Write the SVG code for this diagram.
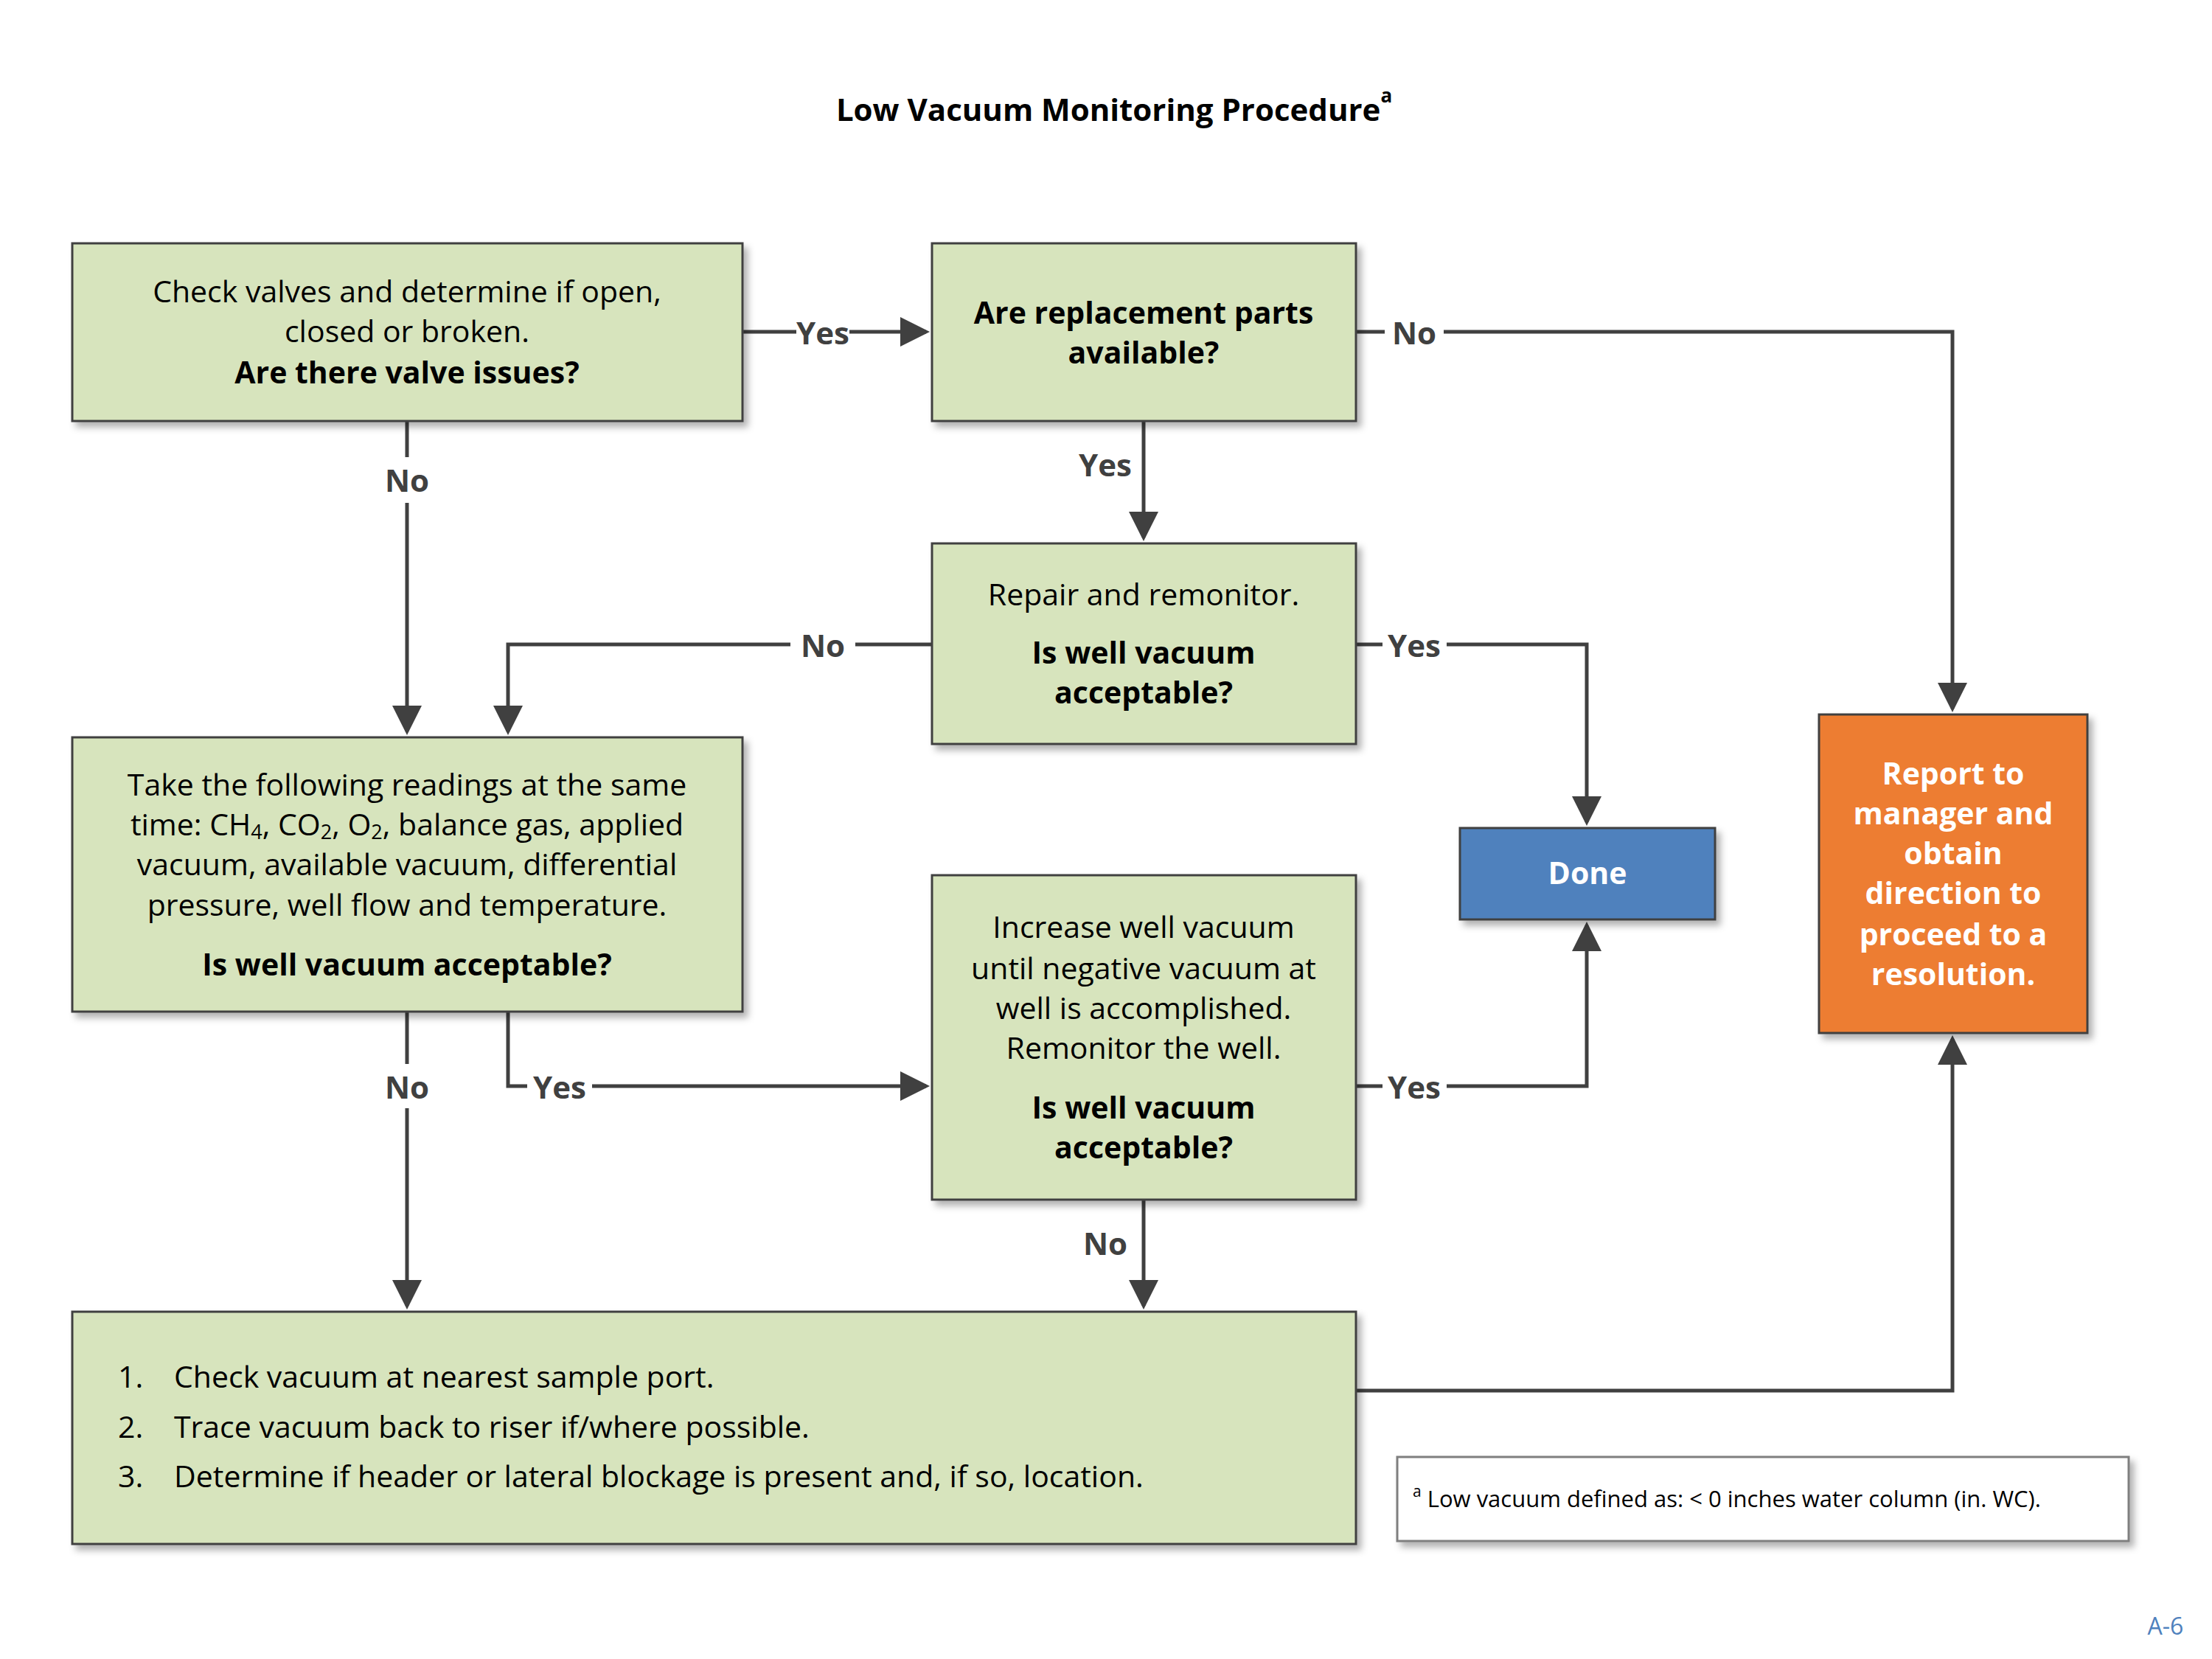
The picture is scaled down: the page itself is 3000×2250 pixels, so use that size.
<svg xmlns="http://www.w3.org/2000/svg" width="3000" height="2250" viewBox="0 0 3000 2250">
<style>
text{font-family:"Open Sans","Noto Sans",sans-serif;fill:#000;font-size:41px;dominant-baseline:central}
.c{text-anchor:middle}
.b{font-weight:bold}
.box{fill:#D7E4BD;stroke:#404040;stroke-width:3;filter:url(#sh)}
.ln{fill:none;stroke:#404040;stroke-width:5}
.lb{font-weight:bold;fill:#404040;font-size:42px;text-anchor:middle}
.w{fill:#fff}
</style>
<defs>
<filter id="sh" x="-5%" y="-5%" width="115%" height="120%"><feDropShadow dx="6" dy="7" stdDeviation="5" flood-color="#000" flood-opacity="0.3"/></filter>
<marker id="a" markerWidth="8" markerHeight="8" refX="7" refY="4" orient="auto" markerUnits="strokeWidth"><path d="M0,0 L8,4 L0,8 Z" fill="#404040"/></marker>
</defs>
<rect width="3000" height="2250" fill="#fff"/>
<text x="1511" y="147" class="c b" style="font-size:42px">Low Vacuum Monitoring Procedure<tspan style="font-size:26px" baseline-shift="super">a</tspan></text>

<g id="connectors">
<path class="ln" d="M1007,450 H1080 M1152,450 H1256" marker-end="url(#a)"/>
<text class="lb" x="1116" y="450">Yes</text>
<path class="ln" d="M1839,450 H1878 M1958,450 H2648 V961" marker-end="url(#a)"/>
<text class="lb" x="1918" y="450">No</text>
<path class="ln" d="M1551,571 V729" marker-end="url(#a)"/>
<text class="lb" x="1499" y="629">Yes</text>
<path class="ln" d="M552,571 V620 M552,682 V992" marker-end="url(#a)"/>
<text class="lb" x="552" y="650">No</text>
<path class="ln" d="M1264,874 H1160 M1072,874 H689 V992" marker-end="url(#a)"/>
<text class="lb" x="1116" y="874">No</text>
<path class="ln" d="M1839,874 H1875 M1962,874 H2152 V1115" marker-end="url(#a)"/>
<text class="lb" x="1918" y="874">Yes</text>
<path class="ln" d="M689,1372 V1473 H715 M803,1473 H1256" marker-end="url(#a)"/>
<text class="lb" x="759" y="1473">Yes</text>
<path class="ln" d="M552,1372 V1443 M552,1503 V1771" marker-end="url(#a)"/>
<text class="lb" x="552" y="1473">No</text>
<path class="ln" d="M1839,1473 H1875 M1962,1473 H2152 V1255" marker-end="url(#a)"/>
<text class="lb" x="1918" y="1473">Yes</text>
<path class="ln" d="M1551,1627 V1771" marker-end="url(#a)"/>
<text class="lb" x="1499" y="1685">No</text>
<path class="ln" d="M1839,1886 H2648 V1409" marker-end="url(#a)"/>
</g>

<g id="n1"><rect class="box" x="98" y="330" width="909" height="241"/>
<text class="c" x="552" y="394">Check valves and determine if open,</text>
<text class="c" x="552" y="448">closed or broken.</text>
<text class="c b" x="552" y="504">Are there valve issues?</text></g>

<g id="n2"><rect class="box" x="1264" y="330" width="575" height="241"/>
<text class="c b" x="1551" y="423">Are replacement parts</text>
<text class="c b" x="1551" y="477">available?</text></g>

<g id="n3"><rect class="box" x="1264" y="737" width="575" height="272"/>
<text class="c" x="1551" y="805">Repair and remonitor.</text>
<text class="c b" x="1551" y="884">Is well vacuum</text>
<text class="c b" x="1551" y="938">acceptable?</text></g>

<g id="n4"><rect class="box" x="98" y="1000" width="909" height="372"/>
<text class="c" x="552" y="1063">Take the following readings at the same</text>
<text class="c" x="552" y="1117">time: CH<tspan style="font-size:27px" dy="10">4</tspan><tspan dy="-10">, CO</tspan><tspan style="font-size:27px" dy="10">2</tspan><tspan dy="-10">, O</tspan><tspan style="font-size:27px" dy="10">2</tspan><tspan dy="-10">, balance gas, applied</tspan></text>
<text class="c" x="552" y="1171">vacuum, available vacuum, differential</text>
<text class="c" x="552" y="1226">pressure, well flow and temperature.</text>
<text class="c b" x="552" y="1307">Is well vacuum acceptable?</text></g>

<g id="n5"><rect class="box" x="1264" y="1187" width="575" height="440"/>
<text class="c" x="1551" y="1256">Increase well vacuum</text>
<text class="c" x="1551" y="1312">until negative vacuum at</text>
<text class="c" x="1551" y="1366">well is accomplished.</text>
<text class="c" x="1551" y="1420">Remonitor the well.</text>
<text class="c b" x="1551" y="1501">Is well vacuum</text>
<text class="c b" x="1551" y="1555">acceptable?</text></g>

<g id="done"><rect x="1980" y="1123" width="346" height="124" fill="#4F81BD" stroke="#404040" stroke-width="3" filter="url(#sh)"/>
<text class="c b w" x="2153" y="1183">Done</text></g>

<g id="report"><rect x="2467" y="969" width="364" height="432" fill="#ED7D31" stroke="#404040" stroke-width="3" filter="url(#sh)"/>
<text class="c b w" x="2649" y="1048">Report to</text>
<text class="c b w" x="2649" y="1102">manager and</text>
<text class="c b w" x="2649" y="1156">obtain</text>
<text class="c b w" x="2649" y="1210">direction to</text>
<text class="c b w" x="2649" y="1266">proceed to a</text>
<text class="c b w" x="2649" y="1320">resolution.</text></g>

<g id="n6"><rect class="box" x="98" y="1779" width="1741" height="315"/>
<text x="160" y="1866">1.</text><text x="236" y="1866">Check vacuum at nearest sample port.</text>
<text x="160" y="1934">2.</text><text x="236" y="1934">Trace vacuum back to riser if/where possible.</text>
<text x="160" y="2001">3.</text><text x="236" y="2001">Determine if header or lateral blockage is present and, if so, location.</text></g>

<g id="footnote"><rect x="1895" y="1976" width="992" height="114" fill="#fff" stroke="#7f7f7f" stroke-width="3" filter="url(#sh)"/>
<text x="1916" y="2032" style="font-size:31px"><tspan style="font-size:21px" dy="-10">a</tspan><tspan dy="10"> Low vacuum defined as: &lt; 0 inches water column (in. WC).</tspan></text></g>

<text x="2937" y="2204" class="c" style="font-size:32px;fill:#4F81BD">A-6</text>
</svg>
